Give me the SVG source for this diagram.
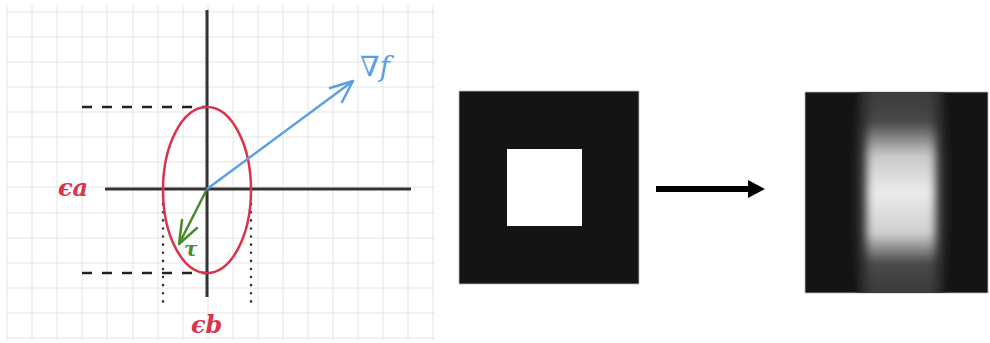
<svg xmlns="http://www.w3.org/2000/svg" width="990" height="343" viewBox="0 0 990 343">
<style>
.grid{stroke:#e4e4e4;stroke-width:1;fill:none}
.axis{stroke:#333;stroke-width:3;fill:none}
.dash{stroke:#222;stroke-width:2.5;stroke-dasharray:10 10;fill:none}
.dot{stroke:#333;stroke-width:2.5;stroke-dasharray:0.1 8;stroke-linecap:round;fill:none}
.lbl{font-family:"DejaVu Serif","Liberation Serif",serif;font-style:italic}
</style>
<defs>
<filter id="hblur" x="-50%" y="-20%" width="200%" height="140%"><feGaussianBlur stdDeviation="5 3"/></filter>
<filter id="blur3" x="-50%" y="-50%" width="200%" height="200%"><feGaussianBlur stdDeviation="3"/></filter>
<linearGradient id="vg" x1="0" y1="100" x2="0" y2="285" gradientUnits="userSpaceOnUse">
<stop offset="0" stop-color="#3e3e3e"/>
<stop offset="0.12" stop-color="#484848"/>
<stop offset="0.3" stop-color="#c8c8c8"/>
<stop offset="0.5" stop-color="#ebebeb"/>
<stop offset="0.72" stop-color="#cfcfcf"/>
<stop offset="0.88" stop-color="#4a4a4a"/>
<stop offset="1" stop-color="#3e3e3e"/>
</linearGradient>
<clipPath id="rc"><rect x="805" y="92" width="183" height="201"/></clipPath>
</defs>
<rect width="990" height="343" fill="#ffffff"/>
<g id="grid">
<path class="grid" d="M7 12H435M7 37H435M7 62H435M7 87H435M7 112H435M7 137H435M7 162H435M7 187H435M7 213H435M7 238H435M7 263H435M7 288H435M7 313H435M7 338H435"/>
<path class="grid" d="M7 5V340M32 5V340M57 5V340M82 5V340M107 5V340M133 5V340M158 5V340M183 5V340M208 5V340M233 5V340M258 5V340M283 5V340M308 5V340M333 5V340M358 5V340M383 5V340M408 5V340M433 5V340"/>
</g>
<g id="axes">
<line class="axis" x1="207" y1="10" x2="207" y2="297"/>
<line class="axis" x1="105" y1="189" x2="411" y2="189"/>
</g>
<g id="guides">
<line class="dash" x1="82" y1="107" x2="207" y2="107"/>
<line class="dash" x1="82" y1="273" x2="207" y2="273"/>
<line class="dot" x1="163" y1="196" x2="163" y2="305"/>
<line class="dot" x1="251" y1="196" x2="251" y2="305"/>
</g>
<g id="ellipse">
<ellipse cx="207" cy="190" rx="44" ry="83" fill="none" stroke="#d9334d" stroke-width="2.5"/>
</g>
<g id="connectors">
<line x1="207" y1="189" x2="353" y2="81" stroke="#5aa0e6" stroke-width="2.5"/>
<path d="M330 88L353 81L342 102" fill="none" stroke="#5aa0e6" stroke-width="2.5" stroke-linejoin="round" stroke-linecap="round"/>
<line x1="207" y1="189" x2="179" y2="244" stroke="#4a8a2a" stroke-width="2.5"/>
<path d="M182 220L179 244L197 228" fill="none" stroke="#4a8a2a" stroke-width="2.5" stroke-linejoin="round" stroke-linecap="round"/>
<line x1="656" y1="189" x2="750" y2="189" stroke="#000" stroke-width="6"/>
<polygon points="748,180 765,189 748,198" fill="#000"/>
</g>
<g id="labels">
<text class="lbl" x="360" y="76" font-size="28" font-style="normal" fill="#5aa0e6">∇<tspan font-style="italic">f</tspan></text>
<text class="lbl" x="184" y="256" font-size="20" font-weight="bold" fill="#4a8a2a">τ</text>
<text class="lbl" x="58" y="196" font-size="24" font-weight="bold" fill="#d9334d">ϵa</text>
<text class="lbl" x="191" y="333" font-size="24" font-weight="bold" fill="#d9334d">ϵb</text>
</g>
<g id="input-image">
<rect x="459" y="91" width="180" height="193" fill="#141414" stroke="#bbb" stroke-width="0.8"/>
<rect x="507" y="149" width="75" height="77" fill="#ffffff"/>
</g>
<g id="output-image">
<rect x="805" y="92" width="183" height="201" fill="#141414" stroke="#bbb" stroke-width="0.8"/>
<g clip-path="url(#rc)">
<path d="M859 88 C852 150 852 235 859 297 L943 297 C950 235 950 150 943 88 Z" fill="#272727" filter="url(#blur3)"/>
<rect x="866" y="88" width="70" height="210" fill="url(#vg)" filter="url(#hblur)"/>
</g>
</g>
</svg>
